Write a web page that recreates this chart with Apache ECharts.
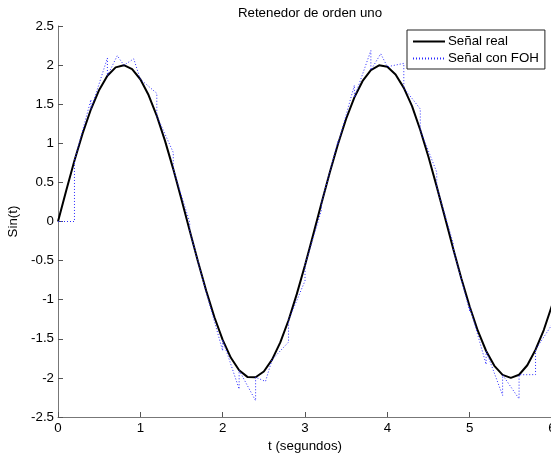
<!DOCTYPE html>
<html>
<head>
<meta charset="utf-8">
<script src="https://cdn.jsdelivr.net/npm/echarts@6/dist/echarts.min.js"></script>
<style>
html,body{margin:0;padding:0;background:#fff;}
#c{width:551px;height:456px;}
</style>
</head>
<body>
<div id="c"></div>
<script>
// Real signal samples (t, value)
var realT = [0,0.1,0.2,0.3,0.4,0.5,0.6,0.7,0.8,0.9,1.0,1.1,1.2,1.3,1.4,1.5,1.6,1.7,1.8,1.9,2.0,2.1,2.2,2.3,2.4,2.5,2.6,2.7,2.8,2.9,3.0,3.1,3.2,3.3,3.4,3.5,3.6,3.7,3.8,3.9,4.0,4.1,4.2,4.3,4.4,4.5,4.6,4.7,4.8,4.9,5.0,5.1,5.2,5.3,5.4,5.5,5.6,5.7,5.8,5.9,6.0];
var realV = [0,0.397,0.779,1.129,1.435,1.683,1.864,1.971,1.999,1.948,1.819,1.617,1.351,1.031,0.670,0.282,-0.117,-0.511,-0.885,-1.224,-1.514,-1.743,-1.903,-1.987,-1.992,-1.918,-1.767,-1.546,-1.263,-0.929,-0.559,-0.166,0.233,0.623,0.988,1.314,1.587,1.797,1.936,1.997,1.979,1.881,1.709,1.475,1.170,0.824,0.446,0.050,-0.349,-0.733,-1.088,-1.400,-1.656,-1.846,-1.962,-2.000,-1.960,-1.838,-1.639,-1.388,-1.073];
// First-order-hold signal vertices (t, value)
var fohT = [0,0.2,0.2,0.4,0.4,0.6,0.6,0.72,0.8,0.92,1.0,1.2,1.2,1.4,1.4,1.6,1.6,1.8,1.8,2.0,2.0,2.2,2.2,2.4,2.4,2.52,2.6,2.8,2.8,3.0,3.0,3.2,3.2,3.4,3.4,3.6,3.6,3.8,3.8,3.92,4.0,4.2,4.2,4.4,4.4,4.6,4.6,4.8,4.8,5.0,5.0,5.2,5.2,5.4,5.4,5.6,5.6,5.8,5.8,6.0];
var fohV = [0,0,0.779,1.558,1.435,2.091,1.864,2.121,1.999,2.080,1.819,1.639,1.351,0.883,0.670,-0.011,-0.117,-0.904,-0.885,-1.653,-1.514,-2.143,-1.903,-2.292,-1.992,-2.045,-1.767,-1.542,-1.263,-0.759,-0.559,0.145,0.233,1.025,0.988,1.743,1.587,2.186,1.936,2.145,1.979,2.022,1.709,1.439,1.170,0.631,0.446,-0.278,-0.349,-1.144,-1.088,-1.827,-1.656,-2.224,-1.962,-2.268,-1.960,-1.958,-1.639,-1.318];
var xTicks = [0,1,2,3,4,5,6];
var yTicks = [-2.5,-2,-1.5,-1,-0.5,0,0.5,1,1.5,2,2.5];
var seriesNames = ['Señal real','Señal con FOH'];
var titleText = 'Retenedor de orden uno';
var xName = 't (segundos)';
var yName = 'Sin(t)';

function pairs(a,b){var r=[];for(var i=0;i<a.length;i++)r.push([a[i],b[i]]);return r;}

var FONT = 'Liberation Sans, Arial, sans-serif';
var FS = 13.3;
var chart = echarts.init(document.getElementById('c'), null, {renderer:'canvas'});
chart.setOption({
  animation:false,
  backgroundColor:'#fff',
  title:{text:titleText,left:305,top:2,textAlign:'center',
    textStyle:{fontFamily:FONT,fontSize:FS,fontWeight:'normal',color:'#000'}},
  legend:{
    data:seriesNames, orient:'vertical', left:407, top:30,
    backgroundColor:'#fff', borderColor:'#222', borderWidth:1,
    padding:[5,6,4,5], itemGap:4, itemWidth:32, itemHeight:14,
    itemStyle:{opacity:0},
    textStyle:{fontFamily:FONT,fontSize:FS,color:'#000',padding:[0,0,0,-2]}
  },
  grid:{left:58,top:26,width:494,height:391,outerBoundsMode:'none',containLabel:false},
  xAxis:{type:'value',min:xTicks[0],max:xTicks[xTicks.length-1],interval:1,
    name:xName,nameLocation:'middle',nameGap:20,
    nameTextStyle:{fontFamily:FONT,fontSize:FS,color:'#000'},
    axisLine:{onZero:false,lineStyle:{color:'#777',width:1}},
    axisTick:{inside:true,length:5,lineStyle:{color:'#555'}},
    axisLabel:{margin:5,fontFamily:FONT,fontSize:FS,color:'#000'},
    splitLine:{show:false}},
  yAxis:{type:'value',min:yTicks[0],max:yTicks[yTicks.length-1],interval:0.5,
    name:yName,nameLocation:'middle',nameGap:35,
    nameTextStyle:{fontFamily:FONT,fontSize:FS,color:'#000'},
    axisLine:{show:true,onZero:false,lineStyle:{color:'#777',width:1}},
    axisTick:{show:true,inside:true,length:5,lineStyle:{color:'#555'}},
    axisLabel:{margin:4,fontFamily:FONT,fontSize:FS,color:'#000'},
    splitLine:{show:false}},
  series:[
    {name:seriesNames[0],type:'line',data:pairs(realT,realV),symbol:'none',
      lineStyle:{color:'#000',width:2},itemStyle:{color:'#000'},z:2},
    {name:seriesNames[1],type:'line',data:pairs(fohT,fohV),symbol:'none',
      lineStyle:{color:'#2a2aff',width:1,type:[1,2]},itemStyle:{color:'#2a2aff'},z:3}
  ]
});
</script>
</body>
</html>
